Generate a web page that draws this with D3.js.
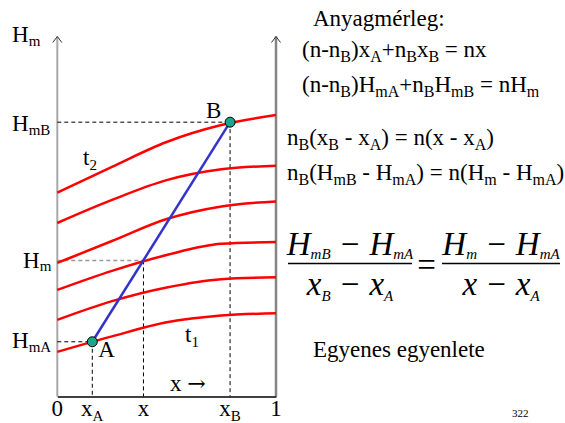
<!DOCTYPE html>
<html>
<head>
<meta charset="utf-8">
<script src="https://cdn.jsdelivr.net/npm/d3@7"></script>
<style>
  body { margin: 0; background: #fff; }
  svg text { font-family: "Liberation Serif", "Times New Roman", serif; fill: #000; }
</style>
</head>
<body>
<div id="chart"></div>
<script>
// x positions (mole fraction) where the isotherms were read
var xFrac = [0, 0.25, 0.5, 0.75, 1];
// molar enthalpy of each isotherm, top (t2) to bottom (t1)
var isoT2 = [56.6, 63.8, 70.7, 75.4, 78.2];
var iso2  = [48.2, 54.6, 60.1, 63.1, 64.1];
var iso3  = [37.1, 43.2, 49.3, 52.8, 54.2];
var iso4  = [29.6, 34.9, 39.3, 42.4, 42.9];
var iso5  = [21.3, 26.5, 30.3, 32.6, 33.1];
var isoT1 = [12.4, 16.7, 20.6, 22.5, 23.1];
var isotherms = [isoT2, iso2, iso3, iso4, iso5, isoT1];

// the two streams and the mixture
var pointNames = ["A", "B"];
var pointX = [0.16, 0.79];
var pointH = [15.2, 76.2];
var mixX = 0.394;
var mixH = 37.8;

// bottom tick labels
var tickVals = [0, 0.16, 0.394, 0.79, 1];
var tickLabels = ["0", "x_{A}", "x", "x_{B}", "1"];

var width = 565, height = 423;
var svg = d3.select("#chart").append("svg")
    .attr("width", width)
    .attr("height", height);

var xScale = d3.scaleLinear().domain([0, 1]).range([57.3, 276]);
var yScale = d3.scaleLinear().domain([0, 100]).range([396.5, 36.5]);

// writes "a_{b}c" as text with subscript tspans
function richText(sel, str, size, subSize, shift) {
    var parts = str.split(/(_\{[^}]*\})/).filter(function(p) { return p.length; });
    var down = false;
    parts.forEach(function(p) {
        if (p.indexOf("_{") === 0) {
            sel.append("tspan").attr("font-size", subSize).attr("dy", shift)
                .text(p.slice(2, -1));
            down = true;
        } else {
            sel.append("tspan").attr("font-size", size).attr("dy", down ? -shift : 0)
                .text(p);
            down = false;
        }
    });
    return sel;
}
function label(x, y, str, size, subSize, shift, anchor) {
    var t = svg.append("text").attr("x", x).attr("y", y)
        .attr("text-anchor", anchor || "start")
        .style("white-space", "pre");
    return richText(t, str, size, subSize, shift);
}

// axes
svg.append("line")
    .attr("x1", xScale(0)).attr("x2", xScale(0))
    .attr("y1", yScale(0)).attr("y2", yScale(100))
    .attr("stroke", "#a8a8a8").attr("stroke-width", 2);
svg.append("line")
    .attr("x1", xScale(1)).attr("x2", xScale(1))
    .attr("y1", yScale(0)).attr("y2", yScale(100))
    .attr("stroke", "#848484").attr("stroke-width", 2.5);
[0, 1].forEach(function(v) {
    svg.append("path")
        .attr("d", "M" + (xScale(v) - 4.5) + "," + (yScale(100) + 6) +
                   "L" + xScale(v) + "," + yScale(100) +
                   "L" + (xScale(v) + 4.5) + "," + (yScale(100) + 6))
        .attr("fill", "none").attr("stroke", "#333").attr("stroke-width", 1);
});

var xAxis = d3.axisBottom(xScale).tickValues([]).tickSizeOuter(0);
svg.append("g")
    .attr("transform", "translate(0," + yScale(0) + ")")
    .call(xAxis)
    .select(".domain").attr("stroke", "#000").attr("stroke-width", 1.5);

// dashed guide lines
var guides = [
    {x: pointX[0], h: pointH[0], hc: "#000"},
    {x: pointX[1], h: pointH[1], hc: "#000"},
    {x: mixX, h: mixH, hc: "#999"}
];
guides.forEach(function(g) {
    svg.append("line")
        .attr("x1", xScale(0)).attr("x2", xScale(g.x))
        .attr("y1", yScale(g.h)).attr("y2", yScale(g.h))
        .attr("stroke", g.hc).attr("stroke-width", g.hc === "#000" ? 1 : 1.5)
        .attr("stroke-dasharray", "4,3");
    svg.append("line")
        .attr("x1", xScale(g.x)).attr("x2", xScale(g.x))
        .attr("y1", yScale(g.h)).attr("y2", yScale(0))
        .attr("stroke", "#000").attr("stroke-width", 1)
        .attr("stroke-dasharray", "4,3");
});

// isotherms
var line = d3.line()
    .x(function(d, i) { return xScale(xFrac[i]); })
    .y(function(d) { return yScale(d); })
    .curve(d3.curveMonotoneX);
svg.append("g").selectAll("path.iso")
    .data(isotherms)
    .enter().append("path")
    .attr("class", "iso")
    .attr("d", line)
    .attr("fill", "none")
    .attr("stroke", "#ff0000")
    .attr("stroke-width", 2.5);

// mixing line A-B
svg.append("line")
    .attr("x1", xScale(pointX[0])).attr("y1", yScale(pointH[0]))
    .attr("x2", xScale(pointX[1])).attr("y2", yScale(pointH[1]))
    .attr("stroke", "#3333cc").attr("stroke-width", 2.5);

svg.selectAll("circle.pt")
    .data(pointNames)
    .enter().append("circle")
    .attr("class", "pt")
    .attr("cx", function(d, i) { return xScale(pointX[i]); })
    .attr("cy", function(d, i) { return yScale(pointH[i]); })
    .attr("r", 5)
    .attr("fill", "#19a789")
    .attr("stroke", "#000")
    .attr("stroke-width", 1);

// point letters
label(xScale(pointX[1]) - 24, yScale(pointH[1]) - 4, "B", 23, 15, 5);
label(xScale(pointX[0]) + 6, yScale(pointH[0]) + 15, "A", 23, 15, 5);
label(83, 165, "t_{2}", 23, 15, 5);
label(185, 342, "t_{1}", 23, 15, 5);

// left labels
label(12, 42, "H_{m}", 23, 15, 4);
label(12, 131, "H_{mB}", 23, 15, 4);
label(23, 268, "H_{m}", 23, 15, 3);
label(12, 348, "H_{mA}", 23, 15, 4);

// bottom labels
tickVals.forEach(function(v, i) {
    label(xScale(v), 416, tickLabels[i], 23, 15, 5, "middle");
});
var xArrow = label(170, 391, "x ", 23, 15, 5);
xArrow.append("tspan")
    .style("font-family", "'DejaVu Serif', serif")
    .attr("font-size", 22)
    .text("\u2192");

// equations on the right
label(313, 26, "Anyagmérleg:", 23, 16, 5);
label(302, 57, "(n-n_{B})x_{A}+n_{B}x_{B} = nx", 23, 16, 5);
label(302, 92, "(n-n_{B})H_{mA}+n_{B}H_{mB} = nH_{m}", 23, 16, 5);
label(287, 145, "n_{B}(x_{B} - x_{A}) = n(x - x_{A})", 23, 16, 5);
label(287, 180, "n_{B}(H_{mB} - H_{mA}) = n(H_{m} - H_{mA})", 23, 16, 5);

// fraction
function frac(cx, x0, x1, num, den) {
    label(cx, 255, num, 33, 15, 4, "middle").style("font-style", "italic");
    label(cx, 295, den, 33, 15, 6, "middle").style("font-style", "italic");
    svg.append("line")
        .attr("x1", x0).attr("x2", x1)
        .attr("y1", 263.5).attr("y2", 263.5)
        .attr("stroke", "#000").attr("stroke-width", 1.5);
}
frac(350, 288, 412, "H_{mB} \u2212 H_{mA}", "x_{B} \u2212 x_{A}");
frac(501, 442, 560, "H_{m} \u2212 H_{mA}", "x \u2212 x_{A}");
label(426.5, 276, "=", 33, 15, 0, "middle");

label(313, 357, "Egyenes egyenlete", 23, 16, 5);
label(512, 417, "322", 11, 8, 2);
</script>
</body>
</html>
